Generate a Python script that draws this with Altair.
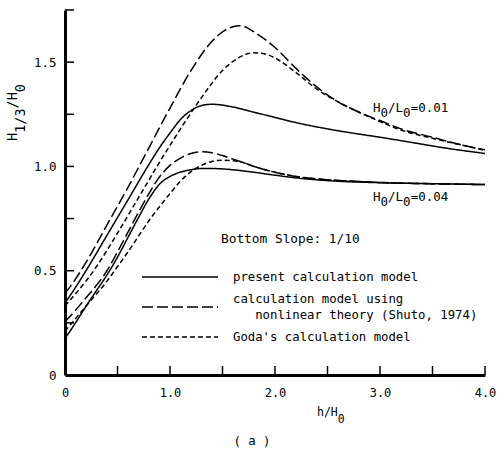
import altair as alt
import pandas as pd

FONT = "DejaVu Sans Mono"
ADV = 0.602  # advance width of the monospace font, in em
PAD_L, PAD_T = 65, 10
W, H = 420, 365

# ---- data ----
# H0/L0 = 0.01
x01_present = [0, 0.1, 0.2, 0.4, 0.6, 0.8, 0.9, 1.0, 1.1, 1.2, 1.3, 1.4, 1.6, 1.8, 2.0, 2.2, 2.5, 2.8, 3.0, 3.3, 3.6, 4.0]
y01_present = [0.345, 0.42, 0.50, 0.67, 0.84, 1.01, 1.09, 1.16, 1.225, 1.268, 1.292, 1.298, 1.285, 1.26, 1.235, 1.21, 1.18, 1.155, 1.14, 1.115, 1.09, 1.062]

x01_shuto = [0, 0.1, 0.2, 0.4, 0.6, 0.8, 1.0, 1.2, 1.4, 1.5, 1.6, 1.65, 1.7, 1.8, 2.0, 2.2, 2.4, 2.6, 2.8, 3.0, 3.2, 3.5, 3.8, 4.0]
y01_shuto = [0.39, 0.46, 0.54, 0.72, 0.90, 1.09, 1.28, 1.46, 1.60, 1.645, 1.670, 1.675, 1.672, 1.645, 1.57, 1.47, 1.38, 1.31, 1.26, 1.22, 1.18, 1.14, 1.10, 1.08]

x01_goda = [0, 0.1, 0.2, 0.3, 0.5, 0.7, 0.9, 1.1, 1.3, 1.5, 1.65, 1.8, 1.9, 2.0, 2.2, 2.4, 2.6, 2.8, 3.0, 3.2, 3.5, 3.8, 4.0]
y01_goda = [0.33, 0.39, 0.45, 0.52, 0.68, 0.85, 1.02, 1.18, 1.33, 1.46, 1.52, 1.545, 1.54, 1.52, 1.45, 1.37, 1.31, 1.26, 1.215, 1.175, 1.135, 1.10, 1.077]

# H0/L0 = 0.04
x04_present = [0, 0.1, 0.2, 0.3, 0.4, 0.5, 0.6, 0.7, 0.8, 0.9, 1.0, 1.1, 1.2, 1.3, 1.4, 1.6, 1.8, 2.0, 2.2, 2.5, 3.0, 3.5, 4.0]
y04_present = [0.175, 0.25, 0.33, 0.405, 0.48, 0.565, 0.66, 0.755, 0.845, 0.915, 0.952, 0.973, 0.984, 0.99, 0.99, 0.984, 0.972, 0.958, 0.945, 0.932, 0.922, 0.917, 0.913]

x04_shuto = [0, 0.1, 0.2, 0.3, 0.4, 0.5, 0.6, 0.7, 0.8, 0.9, 1.0, 1.1, 1.2, 1.3, 1.4, 1.5, 1.6, 1.7, 1.8, 2.0, 2.2, 2.4, 2.7, 3.0, 3.5, 4.0]
y04_shuto = [0.255, 0.31, 0.37, 0.43, 0.50, 0.59, 0.685, 0.78, 0.87, 0.95, 1.005, 1.04, 1.062, 1.07, 1.066, 1.052, 1.035, 1.018, 1.00, 0.972, 0.952, 0.94, 0.93, 0.923, 0.917, 0.913]

x04_goda = [0, 0.2, 0.4, 0.5, 0.6, 0.8, 1.0, 1.1, 1.2, 1.3, 1.4, 1.5, 1.6, 1.7, 1.8, 2.0, 2.2, 2.4, 2.7, 3.0, 3.5, 4.0]
y04_goda = [0.21, 0.33, 0.45, 0.52, 0.59, 0.74, 0.87, 0.93, 0.975, 1.005, 1.024, 1.03, 1.027, 1.018, 1.00, 0.972, 0.952, 0.94, 0.93, 0.923, 0.917, 0.913]

models = ["present", "shuto", "goda"]
dashes = [[1, 0], [11, 4], [5, 3]]

x_ticks = [0.5, 1.0, 1.5, 2.0, 2.5, 3.0, 3.5, 4.0]
y_ticks = [0.25, 0.5, 0.75, 1.0, 1.25, 1.5, 1.75]
x_labels = [0, 1, 2, 3, 4]
y_labels = [0, 0.5, 1.0, 1.5]

series = [
    ("0.01", "present", x01_present, y01_present),
    ("0.01", "shuto", x01_shuto, y01_shuto),
    ("0.01", "goda", x01_goda, y01_goda),
    ("0.04", "present", x04_present, y04_present),
    ("0.04", "shuto", x04_shuto, y04_shuto),
    ("0.04", "goda", x04_goda, y04_goda),
]
rows = []
for steep, model, xs, ys in series:
    for xv, yv in zip(xs, ys):
        rows.append({"x": xv, "y": yv, "model": model, "curve": steep + "-" + model})
df = pd.DataFrame(rows)

xscale = alt.Scale(domain=[0, 4], nice=False, zero=False)
yscale = alt.Scale(domain=[0, 1.75], nice=False, zero=False)
lab = "datum.value == 0 ? '0' : format(datum.value, '.1f')"

xaxis = alt.Axis(values=x_labels, labelExpr=lab, tickSize=0, domainWidth=3, domainColor="black",
                 labelFont=FONT, labelFontSize=12, labelColor="black", labelPadding=12,
                 labelFlush=False, grid=False, title=None)
yaxis = alt.Axis(values=y_labels, labelExpr=lab, tickSize=0, domainWidth=3, domainColor="black",
                 labelFont=FONT, labelFontSize=12.5, labelColor="black", labelPadding=9,
                 labelFlush=False, grid=False, title=None)

lines = alt.Chart(df).mark_line(color="black", strokeWidth=1.5, interpolate="monotone").encode(
    x=alt.X("x:Q", scale=xscale, axis=xaxis),
    y=alt.Y("y:Q", scale=yscale, axis=yaxis),
    strokeDash=alt.StrokeDash("model:N", scale=alt.Scale(domain=models, range=dashes), legend=None),
    detail="curve:N",
)

yt = alt.Chart(pd.DataFrame({"y": y_ticks})).mark_rule(color="black", strokeWidth=1.5).encode(
    y=alt.Y("y:Q", scale=yscale, axis=yaxis), x=alt.value(0), x2=alt.value(9))
xt = alt.Chart(pd.DataFrame({"x": x_ticks})).mark_rule(color="black", strokeWidth=1.5).encode(
    x=alt.X("x:Q", scale=xscale, axis=xaxis), y=alt.value(H), y2=alt.value(H - 9))


def txt(s, px, py, angle=0, size=12.3, align="left"):
    s = s.replace(" ", "\u00a0")
    m = alt.Chart(pd.DataFrame({"t": [s]})).mark_text(
        font=FONT, fontSize=size, color="black", align=align, baseline="middle", angle=angle)
    return m.encode(text="t:N", x=alt.value(px - PAD_L), y=alt.value(py - PAD_T))


def rich(pieces, px, py, size=12.3, sub=5, vertical=False):
    """pieces: list of (text, is_subscript); laid out one after another in a monospace font."""
    out = []
    pos = 0
    adv = ADV * size
    for s, is_sub in pieces:
        off = sub if is_sub else 0
        if vertical:
            out.append(txt(s, px + off, py - pos * adv, angle=270, size=size))
        else:
            out.append(txt(s, px + pos * adv, py + off, size=size))
        pos += len(s)
    return out


def leg(py, dash):
    return alt.Chart(pd.DataFrame({"v": [0]})).mark_rule(
        color="black", strokeWidth=1.5, strokeDash=dash).encode(
        x=alt.value(142 - PAD_L), x2=alt.value(218 - PAD_L), y=alt.value(py - PAD_T))


texts = []
texts += rich([("H", False), ("1/3", True), ("/H", False), ("0", True)], 13, 141, size=13.5, sub=8, vertical=True)
texts += rich([("h/H", False), ("0", True)], 317, 413, size=11.5, sub=7)
texts += rich([("H", False), ("0", True), ("/L", False), ("0", True), ("=0.01", False)], 373, 108, size=12.5)
texts += rich([("H", False), ("0", True), ("/L", False), ("0", True), ("=0.04", False)], 373, 197, size=12.5)
texts += [
    txt("( a )", 252, 441, align="center"),
    txt("Bottom Slope: 1/10", 221, 239, size=12.8),
    txt("present calculation model", 233, 277),
    txt("calculation model using", 233, 299),
    txt("nonlinear theory (Shuto, 1974)", 233 + 3 * ADV * 12.3, 315),
    txt("Goda's calculation model", 233, 337),
]
legend = [leg(277, [1, 0]), leg(307, [11, 4]), leg(337, [5, 3])]

chart = alt.layer(lines, yt, xt, *legend, *texts).properties(
    width=W, height=H,
    padding={"left": PAD_L, "top": PAD_T, "right": 497 - PAD_L - W, "bottom": 454 - PAD_T - H},
    autosize=alt.AutoSizeParams(type="none"),
    background="white",
).configure_view(strokeWidth=0)

chart.save("out.html", embed_options={"renderer": "svg", "actions": False})
